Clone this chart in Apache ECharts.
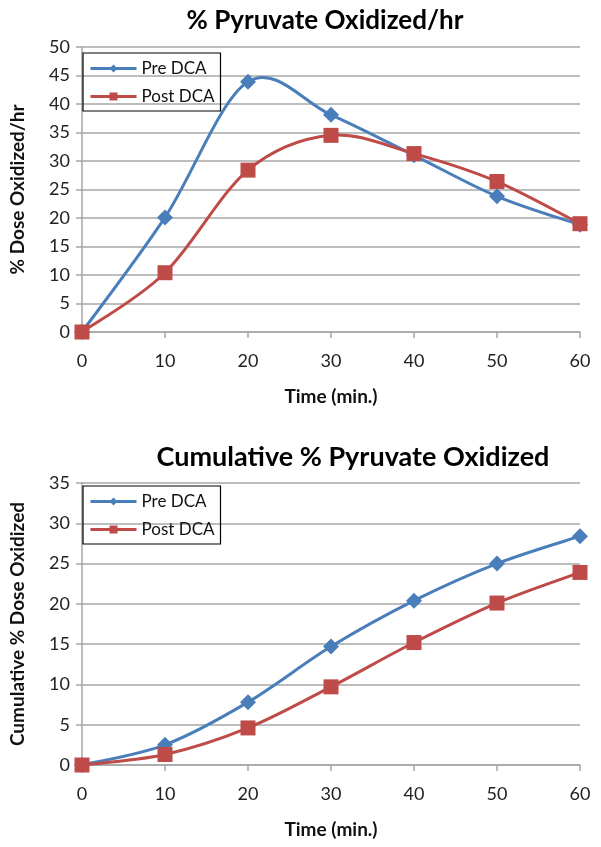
<!DOCTYPE html>
<html><head><meta charset="utf-8">
<script src="https://cdn.jsdelivr.net/npm/echarts@6/dist/echarts.min.js"></script>
<style>html,body{margin:0;padding:0;background:#fff}#c{width:601px;height:847px}</style>
</head><body><div id="c"></div>
<script>
const times = [0, 10, 20, 30, 40, 50, 60];
const preRate = [0, 20.1, 43.9, 38.1, 31.0, 23.8, 18.8];
const postRate = [0, 10.4, 28.4, 34.5, 31.3, 26.4, 19.0];
const preCum = [0, 2.5, 7.8, 14.7, 20.4, 25.0, 28.4];
const postCum = [0, 1.3, 4.6, 9.7, 15.2, 20.1, 23.9];
const topTitle = '% Pyruvate Oxidized/hr';
const botTitle = 'Cumulative % Pyruvate Oxidized';
const topYName = '% Dose Oxidized/hr';
const botYName = 'Cumulative % Dose Oxidized';
const xName = 'Time (min.)';

const FONT = 'Lato, "Open Sans", sans-serif';
const BLUE = '#4A7EBB', RED = '#BE4B48';
const pair = (xs, ys) => xs.map((x, i) => [x, ys[i]]);

const chart = echarts.init(document.getElementById('c'));
const xAxisBase = (gi) => ({
  type: 'value', gridIndex: gi, min: 0, max: 60, interval: 10,
  name: xName, nameLocation: 'middle', nameGap: 55,
  nameTextStyle: {fontFamily: FONT, fontWeight: 'bold', fontSize: 19, color: '#111'},
  axisLine: {show: true, onZero: false, lineStyle: {color: '#a6a6a6', width: 1.5}},
  axisTick: {show: true, inside: false, length: 6, lineStyle: {color: '#a6a6a6', width: 1.5}},
  axisLabel: {fontFamily: FONT, fontSize: 18, color: '#222', margin: 20},
  splitLine: {show: false}
});
const yAxisBase = (gi, max, name) => ({
  type: 'value', gridIndex: gi, min: 0, max: max, interval: 5,
  name: name, nameLocation: 'middle', nameGap: 55, nameRotate: 90,
  nameTextStyle: {fontFamily: FONT, fontWeight: 'bold', fontSize: 19, color: '#111'},
  axisLine: {show: true, lineStyle: {color: '#a6a6a6', width: 1.5}},
  axisTick: {show: true, inside: false, length: 6, lineStyle: {color: '#a6a6a6', width: 1.5}},
  axisLabel: {fontFamily: FONT, fontSize: 18, color: '#222', margin: 12},
  splitLine: {show: true, lineStyle: {color: '#bdbdbd', width: 1.8}}
});

// Excel-style (Catmull-Rom) smoothed curve, drawn segment by segment through the axes
const curveSeries = (gi, xs, ys, color) => ({
  type: 'custom', xAxisIndex: gi, yAxisIndex: gi, silent: true, z: 1,
  data: pair(xs, ys),
  encode: {x: 0, y: 1},
  renderItem: function (params, api) {
    const i = params.dataIndex, n = xs.length;
    if (i >= n - 1) return null;
    const P = (j) => api.coord([xs[Math.max(0, Math.min(n - 1, j))], ys[Math.max(0, Math.min(n - 1, j))]]);
    const p0 = P(i - 1), p1 = P(i), p2 = P(i + 1), p3 = P(i + 2);
    return {
      type: 'bezierCurve',
      shape: {
        x1: p1[0], y1: p1[1], x2: p2[0], y2: p2[1],
        cpx1: p1[0] + (p2[0] - p0[0]) / 6, cpy1: p1[1] + (p2[1] - p0[1]) / 6,
        cpx2: p2[0] - (p3[0] - p1[0]) / 6, cpy2: p2[1] - (p3[1] - p1[1]) / 6
      },
      style: {stroke: color, lineWidth: 3, fill: null, lineCap: 'round'}
    };
  }
});
const markSeries = (name, gi, xs, ys, color, symbol, size) => ({
  name: name, type: 'line', xAxisIndex: gi, yAxisIndex: gi,
  data: pair(xs, ys), symbol: symbol, symbolSize: size,
  lineStyle: {color: color, width: 3, opacity: 0}, itemStyle: {color: color},
  z: symbol === 'rect' ? 4 : 3
});
const legendBase = (top) => ({
  orient: 'vertical', left: 83, top: top,
  data: [
    {name: 'Pre DCA', lineStyle: {color: BLUE, width: 3, opacity: 1}},
    {name: 'Post DCA', lineStyle: {color: RED, width: 3, opacity: 1}}
  ],
  borderColor: '#000', borderWidth: 1.2, padding: [7, 6, 6, 6],
  itemWidth: 46, itemHeight: 10, itemGap: 11,
  textStyle: {fontFamily: FONT, fontSize: 17, color: '#111'}
});

chart.setOption({
  animation: false,
  title: [
    {text: topTitle, left: 320, top: 3, textAlign: 'center',
     textStyle: {fontFamily: FONT, fontWeight: 'bold', fontSize: 26, color: '#000'}},
    {text: botTitle, left: 348, top: 439, textAlign: 'center',
     textStyle: {fontFamily: FONT, fontWeight: 'bold', fontSize: 27, color: '#000'}}
  ],
  grid: [
    {left: 79, right: 21, top: 47, height: 285},
    {left: 79, right: 21, top: 483, height: 282}
  ],
  xAxis: [xAxisBase(0), xAxisBase(1)],
  yAxis: [yAxisBase(0, 50, topYName), yAxisBase(1, 35, botYName)],
  legend: [legendBase(53), legendBase(486)],
  series: [
    curveSeries(0, times, preRate, BLUE),
    curveSeries(0, times, postRate, RED),
    curveSeries(1, times, preCum, BLUE),
    curveSeries(1, times, postCum, RED),
    markSeries('Pre DCA', 0, times, preRate, BLUE, 'diamond', 16),
    markSeries('Post DCA', 0, times, postRate, RED, 'rect', 15),
    markSeries('Pre DCA', 1, times, preCum, BLUE, 'diamond', 16),
    markSeries('Post DCA', 1, times, postCum, RED, 'rect', 15)
  ]
});
</script></body></html>
